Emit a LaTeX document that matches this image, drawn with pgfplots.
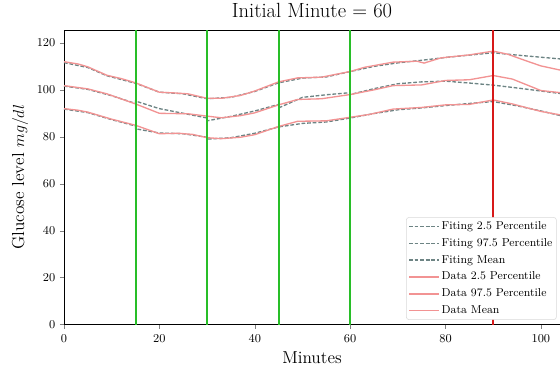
\documentclass[border=0pt]{standalone}
\usepackage{pgfplots}
\pgfplotsset{compat=1.18}
\usepackage{pgfplotstable}

\definecolor{fitc}{RGB}{109,132,132}
\definecolor{datac}{RGB}{242,147,147}
\definecolor{vgreen}{RGB}{40,190,40}
\definecolor{vred}{RGB}{215,25,25}

\pgfplotstableread{
x y
0 112.0
3 111.0
5 109.8
9 106.2
12 104.8
15 103.0
20 99.0
23 98.7
26 98.3
30 96.4
33 96.4
37 97.6
40 99.5
45 103.4
49 105.1
54 105.4
60 107.8
63 109.6
69 111.8
74 112.2
75.5 111.4
79 113.6
85 114.9
90 116.5
93 115.2
97 112.3
100 110.2
105 108.0
}\datahigh

\pgfplotstableread{
x y
0 101.8
5 100.4
9 98.3
15 94.0
20 90.0
26 89.8
30 88.8
33 88.1
37 89.0
40 90.2
45 93.6
49 95.9
54 96.2
60 98.0
65 100.0
69 101.8
75 102.1
80 104.0
85 104.3
90 106.1
94 104.6
100 99.7
105 98.6
}\datamean

\pgfplotstableread{
x y
0 92.0
3 91.3
5 90.5
10 87.5
15 84.9
20 81.3
24 81.5
27 81.0
30 79.6
33 79.2
37 79.8
40 80.9
45 84.4
49 86.6
55 86.8
60 88.3
64 89.5
69 91.8
75 92.5
80 93.6
85 93.8
90 95.7
94 94.0
100 90.8
105 89.0
}\datalow

\pgfplotstableread{
x y
0 111.6
5 109.5
9 106.0
15 102.8
20 99.0
25 98.3
30 96.2
35 96.8
40 99.3
45 103.0
50 105.0
55 105.5
60 107.8
65 110.0
70 111.5
75 112.6
80 113.8
85 114.8
90 115.8
95 114.8
100 113.9
105 113.0
}\fithigh

\pgfplotstableread{
x y
0 101.6
5 100.2
10 97.5
15 94.2
15.01 95.2
20 92.0
25 90.0
30 88.0
30.01 86.8
35 88.7
40 91.0
45 93.8
45.01 92.3
50 96.8
55 97.9
60 98.8
60.01 98.0
65 100.5
70 102.6
75 103.4
80 103.7
85 102.9
90 102.0
95 100.8
100 99.5
105 98.2
}\fitmean

\pgfplotstableread{
x y
0 91.8
5 90.3
10 87.3
15 84.6
15.01 83.4
20 81.6
25 81.3
30 79.8
30.01 79.0
35 79.6
40 81.5
45 84.2
50 85.7
55 86.3
60 88.0
65 89.9
70 91.5
75 92.3
80 93.3
85 94.2
90 95.0
95 93.2
100 91.0
105 88.6
}\fitlow

\begin{document}
\begin{tikzpicture}
\useasboundingbox (-48pt,-34.9pt) rectangle (372pt,243.4pt);
\begin{axis}[
  scale only axis,
  width=372pt, height=220.9pt,
  xmin=0, xmax=104, ymin=0, ymax=125.5,
  axis x line*=box, axis y line*=left,
  xtick pos=left, ytick pos=left,
  tick align=outside,
  major tick length=3pt,
  xtick={0,20,40,60,80,100},
  ytick={0,20,40,60,80,100,120},
  tick label style={font=\fontsize{8.6}{10}\selectfont},
  xticklabel style={yshift=-1pt},
  title={Initial Minute = 60},
  title style={font=\fontsize{15.4}{18}\selectfont, at={(0.5,1)}, anchor=base, yshift=3.5pt},
  xlabel={Minutes},
  ylabel={Glucose level $mg/dl$},
  label style={font=\fontsize{13}{15}\selectfont},
  xlabel style={at={(0.5,0)}, anchor=base, yshift=-29pt},
  ylabel style={at={(0,0.5)}, anchor=center, yshift=33pt},
  legend cell align=left,
  legend style={at={(1,0)}, anchor=south east, xshift=-2.5pt, yshift=3.5pt,
    font=\fontsize{8.6}{10}\selectfont, draw=black!15, rounded corners=2pt,
    fill=white,
    row sep=2.2pt, inner sep=1.5pt,
    nodes={inner sep=1.5pt}},
  legend image code/.code={\draw[#1] (0pt,0pt) -- (15.5pt,0pt); \path (0pt,0pt) -- (22.5pt,0pt);},
]
\addplot[fitc, line width=1pt, dash pattern=on 2.8pt off 1.4pt] table {\fitlow};
\addlegendentry{Fiting 2.5 Percentile}
\addplot[fitc, line width=1pt, dash pattern=on 2.8pt off 1.4pt] table {\fithigh};
\addlegendentry{Fiting 97.5 Percentile}
\addplot[fitc, line width=1pt, dash pattern=on 2.8pt off 1.4pt] table {\fitmean};
\addlegendentry{Fiting Mean}
\addplot[datac, line width=1pt] table {\datalow};
\addlegendentry{Data 2.5 Percentile}
\addplot[datac, line width=1pt] table {\datahigh};
\addlegendentry{Data 97.5 Percentile}
\addplot[datac, line width=1pt] table {\datamean};
\addlegendentry{Data Mean}
\addplot[vgreen, line width=1.5pt, forget plot] coordinates {(15,0) (15,125.5)};
\addplot[vgreen, line width=1.5pt, forget plot] coordinates {(30,0) (30,125.5)};
\addplot[vgreen, line width=1.5pt, forget plot] coordinates {(45,0) (45,125.5)};
\addplot[vgreen, line width=1.5pt, forget plot] coordinates {(60,0) (60,125.5)};
\addplot[vred, line width=1.5pt, forget plot] coordinates {(90,0) (90,125.5)};
\end{axis}
\end{tikzpicture}
\end{document}
